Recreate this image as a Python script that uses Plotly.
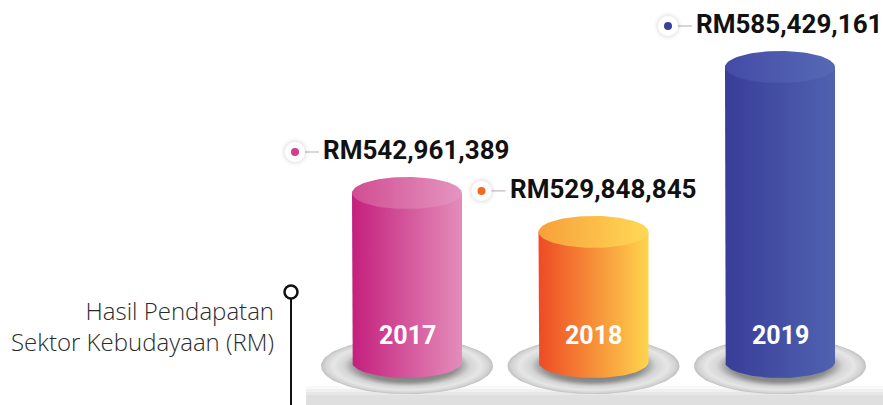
import numpy as np
import plotly.graph_objects as go

# ---------------- data ----------------
years = ["2017", "2018", "2019"]
revenue = [542961389, 529848845, 585429161]
value_labels = ["RM542,961,389", "RM529,848,845", "RM585,429,161"]
axis_title = "Hasil Pendapatan<br>Sektor Kebudayaan (RM)"

# ---------------- styles ----------------
body_colors = [("#c41f7d", "#e48dba"), ("#ee4a24", "#ffd44e"), ("#383d98", "#5062b0")]
top_colors = [("#d04d92", "#e596c0"), ("#f7a03a", "#ffd956"), ("#444ba6", "#5669b5")]
dot_colors = ["#cf3f8c", "#f26a22", "#3a3f98"]

W, H = 883, 405
X0_PX, STEP_PX = 407, 186.5        # pixel centre of first cylinder, spacing
BASE = 486e6                        # value at the cylinder foot
BASE_PX = 362                       # pixel row of the foot
K = 2.967e-6                        # pixels per unit value

x_range = [(0 - X0_PX) / STEP_PX, (W - X0_PX) / STEP_PX]
y_range = [BASE - (H - BASE_PX) / K, BASE + BASE_PX / K]


def dxp(px):
    return px / STEP_PX


def dyp(px):
    return px / K


RX, RY = dxp(55), dyp(16)
PRX, PRY = dxp(86), dyp(28)

fig = go.Figure()
t = np.linspace(0, 2 * np.pi, 90)
th = np.linspace(0, np.pi, 60)

for i, (yr, v) in enumerate(zip(years, revenue)):
    # plate
    pcy = BASE - dyp(4)
    fig.add_trace(go.Scatter(
        x=i + PRX * np.cos(t), y=pcy + PRY * np.sin(t), mode="lines",
        line=dict(width=0), fill="toself", hoverinfo="skip", showlegend=False,
        fillgradient=dict(type="radial", colorscale=[
            [0, "#8e8e8e"], [0.6, "#a9a9a9"], [0.74, "#d6d6d6"],
            [0.86, "#e6e6e6"], [0.95, "#d4d4d4"], [1, "#c0c0c0"]])))
    # shadow under the cylinder
    fig.add_trace(go.Scatter(
        x=i + dxp(62) * np.cos(t), y=BASE - dyp(3) + dyp(21) * np.sin(t), mode="lines",
        line=dict(width=0), fill="toself", hoverinfo="skip", showlegend=False,
        fillgradient=dict(type="radial", colorscale=[
            [0, "rgba(90,90,90,0.9)"], [0.8, "rgba(120,120,120,0.55)"],
            [1, "rgba(170,170,170,0)"]])))
    # body
    bx = np.concatenate([[i - RX], i - RX * np.cos(th), [i + RX, i - RX]])
    by = np.concatenate([[v], BASE - RY * np.sin(th), [v, v]])
    c0, c1 = body_colors[i]
    fig.add_trace(go.Scatter(
        x=bx, y=by, mode="lines", line=dict(width=0), fill="toself",
        hoverinfo="skip", showlegend=False,
        fillgradient=dict(type="horizontal", colorscale=[[0, c0], [1, c1]])))
    # top ellipse
    t0, t1 = top_colors[i]
    fig.add_trace(go.Scatter(
        x=i + RX * np.cos(t), y=v + RY * np.sin(t), mode="lines",
        line=dict(width=0), fill="toself", hoverinfo="skip", showlegend=False,
        fillgradient=dict(type="horizontal", colorscale=[[0, t0], [1, t1]])))

    # label dot and connector
    dot_x = i - dxp(112)
    dot_y = v + dyp(41)
    fig.add_trace(go.Scatter(
        x=[dot_x + dxp(9), dot_x + dxp(24)], y=[dot_y, dot_y], mode="lines",
        line=dict(color="#b8a9b4", width=1), hoverinfo="skip", showlegend=False))
    for size, col in [(28, "rgba(0,0,0,0.025)"), (24, "rgba(0,0,0,0.04)"),
                      (20, "#ffffff"), (8, dot_colors[i])]:
        fig.add_trace(go.Scatter(
            x=[dot_x], y=[dot_y], mode="markers",
            marker=dict(size=size, color=col, line=dict(width=0)),
            hoverinfo="skip", showlegend=False))

    fig.add_annotation(
        x=dot_x, y=v + dyp(43), xref="x", yref="y", xshift=26,
        text=value_labels[i], showarrow=False, xanchor="left", yanchor="middle",
        font=dict(family="Roboto", size=26, color="#111111", weight="bold"))
    fig.add_annotation(
        x=i, y=BASE + dyp(27), xref="x", yref="y", text=yr, showarrow=False,
        xanchor="center", yanchor="middle",
        font=dict(family="Roboto", size=25, color="#ffffff", weight="bold"))


def px_x(p):
    return p / W


def px_y(p):
    return 1 - p / H


# ground shadow band
shapes = []
for y0, op in [(386, 0.18), (389, 0.3), (392, 0.45), (395, 0.7)]:
    shapes.append(dict(type="rect", xref="paper", yref="paper", layer="below",
                       x0=px_x(306), x1=1, y0=px_y(405), y1=px_y(y0),
                       fillcolor="#dcdcdc", opacity=op, line=dict(width=0)))
# axis marker line and circle
shapes.append(dict(type="line", xref="paper", yref="paper",
                   x0=px_x(291), x1=px_x(291), y0=px_y(299), y1=px_y(405),
                   line=dict(color="#111111", width=2)))
shapes.append(dict(type="circle", xref="paper", yref="paper",
                   x0=px_x(284.5), x1=px_x(297.5), y0=px_y(298.5), y1=px_y(285.5),
                   fillcolor="#ffffff", line=dict(color="#111111", width=2.5)))

fig.add_annotation(
    x=px_x(276), y=px_y(326), xref="paper", yref="paper", text=axis_title,
    showarrow=False, xanchor="right", yanchor="middle", align="right",
    font=dict(family="Open Sans", size=24, color="#2b2b2b", weight=300))

fig.update_layout(
    width=W, height=H, margin=dict(l=0, r=0, t=0, b=0),
    paper_bgcolor="#ffffff", plot_bgcolor="#ffffff", shapes=shapes,
    xaxis=dict(range=x_range, visible=False, fixedrange=True),
    yaxis=dict(range=y_range, visible=False, fixedrange=True),
    showlegend=False)

fig.write_html(
    "out.html",
    config={"displayModeBar": False},
    post_script="document.body.style.margin='0';document.body.style.overflow='hidden';")
